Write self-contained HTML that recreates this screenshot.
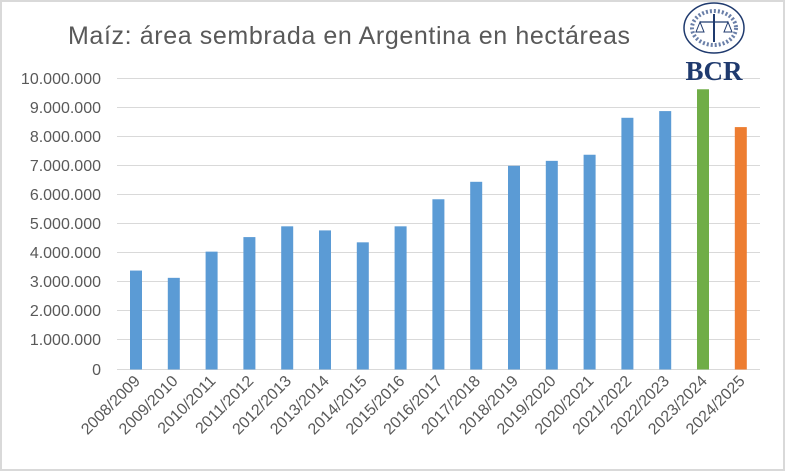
<!DOCTYPE html>
<html><head><meta charset="utf-8"><style>
html,body{margin:0;padding:0;background:#fff;}
body{width:785px;height:471px;overflow:hidden;position:relative;font-family:"Liberation Sans",Arial,sans-serif;}
</style></head><body>
<svg width="785" height="471" xmlns="http://www.w3.org/2000/svg" style="position:absolute;left:0;top:0">
<rect x="1" y="1" width="783" height="469" fill="#fff" stroke="#d9d9d9" stroke-width="2"/>
<text x="68" y="44" font-size="25" fill="#595959" textLength="562" lengthAdjust="spacing" font-family="Liberation Sans,Arial,sans-serif">Maíz: área sembrada  en Argentina en hectáreas</text>
<g stroke="#d9d9d9" stroke-width="1">
<line x1="117" x2="760" y1="78.5" y2="78.5"/>
<line x1="117" x2="760" y1="107.5" y2="107.5"/>
<line x1="117" x2="760" y1="136.5" y2="136.5"/>
<line x1="117" x2="760" y1="165.5" y2="165.5"/>
<line x1="117" x2="760" y1="194.5" y2="194.5"/>
<line x1="117" x2="760" y1="223.5" y2="223.5"/>
<line x1="117" x2="760" y1="252.5" y2="252.5"/>
<line x1="117" x2="760" y1="281.5" y2="281.5"/>
<line x1="117" x2="760" y1="310.5" y2="310.5"/>
<line x1="117" x2="760" y1="339.5" y2="339.5"/>
<line x1="117" x2="760" y1="369.5" y2="369.5"/>
</g>
<g font-size="16" fill="#595959" text-anchor="end">
<text x="101" y="84">10.000.000</text>
<text x="101" y="113">9.000.000</text>
<text x="101" y="142">8.000.000</text>
<text x="101" y="171">7.000.000</text>
<text x="101" y="200">6.000.000</text>
<text x="101" y="229">5.000.000</text>
<text x="101" y="258">4.000.000</text>
<text x="101" y="287">3.000.000</text>
<text x="101" y="316">2.000.000</text>
<text x="101" y="345">1.000.000</text>
<text x="101" y="375">0</text>
</g>
<g id="bars"></g>
<g id="labels" font-size="16" fill="#595959" text-anchor="end"></g>
<g>
<ellipse cx="714" cy="28" rx="30" ry="25" fill="none" stroke="#1f3a6e" stroke-width="1.5"/>
<ellipse cx="714" cy="28" rx="22" ry="17" fill="none" stroke="#6a7fa8" stroke-width="4" stroke-dasharray="2 2"/>
<line x1="714" y1="14" x2="714" y2="42" stroke="#1f3a6e" stroke-width="2"/>
<line x1="700" y1="22" x2="728" y2="22" stroke="#1f3a6e" stroke-width="1.2"/>
<path d="M700 22 l-4 10 h8 z M728 22 l-4 10 h8 z" fill="none" stroke="#1f3a6e" stroke-width="1"/>
<text x="714" y="80" font-size="27" font-weight="bold" fill="#1f3a6e" text-anchor="middle" font-family="Liberation Serif,serif">BCR</text>
</g>
</svg>
<script>
var v=[3.4,3.15,4.05,4.55,4.92,4.78,4.37,4.92,5.85,6.45,7.0,7.17,7.38,8.65,8.88,9.63,8.33];
var lab=["2008/2009","2009/2010","2010/2011","2011/2012","2012/2013","2013/2014","2014/2015","2015/2016","2016/2017","2017/2018","2018/2019","2019/2020","2020/2021","2021/2022","2022/2023","2023/2024","2024/2025"];
var ns="http://www.w3.org/2000/svg",b=document.getElementById("bars"),l=document.getElementById("labels");
for(var i=0;i<17;i++){
 var x=130+37.8*i,h=v[i]*29.1,r=document.createElementNS(ns,"rect");
 r.setAttribute("x",x);r.setAttribute("y",369.5-h);r.setAttribute("width",12);r.setAttribute("height",h);
 r.setAttribute("fill",i==15?"#70ad47":(i==16?"#ed7d31":"#5b9bd5"));b.appendChild(r);
 var t=document.createElementNS(ns,"text"),cx=x+11,cy=382;
 t.setAttribute("x",cx);t.setAttribute("y",cy);t.setAttribute("transform","rotate(-45 "+cx+" "+cy+")");
 t.textContent=lab[i];l.appendChild(t);
}
</script>
</body></html>
